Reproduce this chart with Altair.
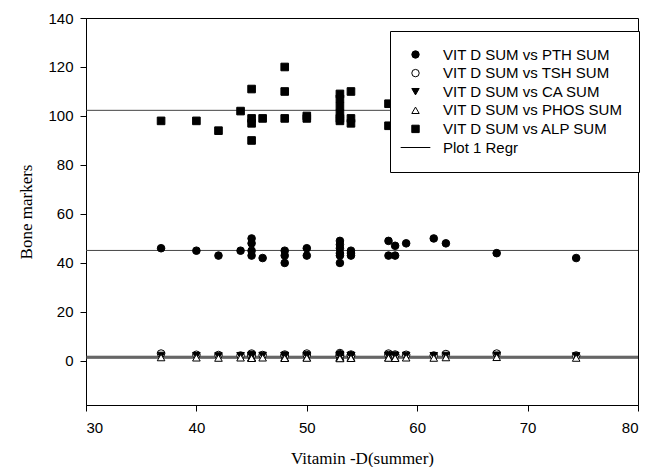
import altair as alt
import pandas as pd

# Vitamin D (summer) per patient
vitd = [36.8, 40.0, 42.0, 44.0, 45.0, 45.0, 45.0, 45.0, 46.0, 48.0, 48.0, 48.0,
        50.0, 50.0, 53.0, 53.0, 53.0, 53.0, 53.0, 53.0, 54.0, 54.0, 54.0,
        57.4, 57.4, 58.0, 58.0, 59.0, 61.5, 62.6, 67.2, 74.4]
pth = [46, 45, 43, 45, 50, 48, 45, 43, 42, 45, 43, 40,
       46, 43, 49, 47.5, 46, 44, 43, 40, 45, 44, 43,
       49, 43, 47, 43, 48, 50, 48, 44, 42]
tsh = [3.0, 2.5, 2.4, 2.2, 3.0, 2.5, 2.2, 2.0, 2.4, 2.6, 2.2, 2.0,
       3.0, 2.4, 3.2, 2.8, 2.5, 2.2, 2.0, 1.9, 2.6, 2.3, 2.1,
       3.0, 2.4, 2.6, 2.2, 2.5, 2.2, 2.8, 3.0, 2.2]
ca = [2.2, 2.1, 2.0, 2.1, 2.3, 2.2, 2.1, 2.0, 2.2, 2.2, 2.1, 2.0,
      2.3, 2.1, 2.4, 2.3, 2.2, 2.1, 2.0, 1.9, 2.2, 2.1, 2.0,
      2.3, 2.1, 2.2, 2.0, 2.2, 2.1, 2.2, 2.3, 2.0]
phos = [1.4, 1.3, 1.2, 1.3, 1.5, 1.3, 1.2, 1.1, 1.3, 1.4, 1.2, 1.1,
        1.4, 1.2, 1.5, 1.4, 1.3, 1.2, 1.1, 1.0, 1.4, 1.2, 1.1,
        1.4, 1.2, 1.3, 1.1, 1.3, 1.2, 1.4, 1.5, 1.2]
alp = [98, 98, 94, 102, 111, 99, 97, 90, 99, 120, 110, 99,
       100, 99, 109, 107, 104, 101, 99, 98, 110, 99, 97,
       105, 96, 102, 100, 101, 104, 100, 103, 101]

series_names = ["VIT D SUM vs PTH SUM", "VIT D SUM vs TSH SUM", "VIT D SUM vs CA SUM",
                "VIT D SUM vs PHOS SUM", "VIT D SUM vs ALP SUM", "Plot 1 Regr"]
series_values = [pth, tsh, ca, phos, alp]
# regression line levels (PTH, TSH, CA, PHOS, ALP)
regr_levels = [45.1, 1.9, 1.5, 1.1, 102.3]

x_ticks = [30, 40, 50, 60, 70, 80]
y_ticks = [0, 20, 40, 60, 80, 100, 120, 140]

rows = []
for name, vals in zip(series_names[:5], series_values):
    for xv, yv in zip(vitd, vals):
        rows.append({"x": xv, "y": yv, "series": name})
pts = pd.DataFrame(rows)
reg = pd.DataFrame({"y": regr_levels})

shape_range = ["circle", "circle", "triangle-down", "triangle-up", "square", "M-4,0L4,0"]
fill_range = ["black", "white", "black", "white", "black", "transparent"]
stroke_range = ["black"] * 6

xs = alt.Scale(domain=[30, 80], nice=False)
ys = alt.Scale(domain=[-18, 140], nice=False)

lines = alt.Chart(reg).mark_rule(color="#444", strokeWidth=1).encode(
    y=alt.Y("y:Q", scale=ys)
)

points = alt.Chart(pts).mark_point(filled=True, opacity=1, size=58, strokeWidth=1).encode(
    x=alt.X("x:Q", scale=xs, title="Vitamin -D(summer)",
            axis=alt.Axis(values=x_ticks, format="d", labelPadding=9, titlePadding=15)),
    y=alt.Y("y:Q", scale=ys, title="Bone markers",
            axis=alt.Axis(values=y_ticks, format="d", labelPadding=7, titlePadding=12)),
    shape=alt.Shape("series:N", scale=alt.Scale(domain=series_names, range=shape_range),
                    legend=alt.Legend(title=None)),
    fill=alt.Fill("series:N", scale=alt.Scale(domain=series_names, range=fill_range),
                  legend=alt.Legend(title=None)),
    stroke=alt.Stroke("series:N", scale=alt.Scale(domain=series_names, range=stroke_range),
                      legend=alt.Legend(title=None)),
)

chart = alt.layer(lines, points).properties(
    width=552, height=387,
    autosize=alt.AutoSizeParams(type="none"),
    padding={"left": 78, "top": 10, "right": 10, "bottom": 62},
    background="white",
).configure_view(
    stroke="black", strokeWidth=1
).configure_axis(
    grid=False,
    labelFont="Liberation Sans", labelFontSize=15, labelColor="black",
    titleFont="Liberation Serif", titleFontSize=17, titleFontWeight="normal", titleColor="black",
    tickColor="black", domainColor="black", tickSize=6,
).configure_legend(
    orient="none", legendX=304, legendY=13,
    padding=16, symbolOffset=2, labelOffset=20, rowPadding=2.6,
    strokeColor="black", fillColor="white",
    labelFont="Liberation Sans", labelFontSize=15, labelColor="black",
    symbolSize=55, symbolStrokeWidth=1, labelLimit=400,
)

chart.save("out.html", embed_options={"renderer": "svg", "actions": False})
